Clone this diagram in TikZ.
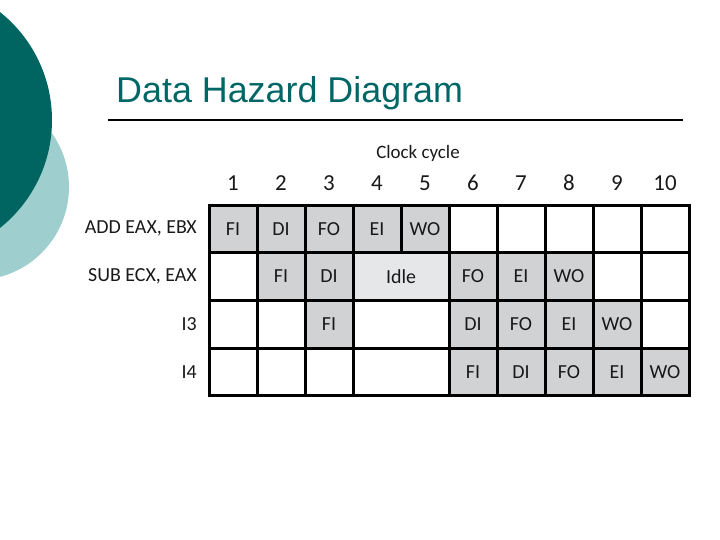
\documentclass[tikz,border=0pt]{standalone}
\usepackage{fontspec}
\newfontfamily\cellfont{Carlito}
\newfontfamily\titlefont{Liberation Sans}
\usetikzlibrary{positioning}
\definecolor{deepteal}{RGB}{0,101,96}
\definecolor{paleteal}{RGB}{158,206,206}
\definecolor{titleteal}{RGB}{0,102,102}
\definecolor{stagegray}{RGB}{209,210,212}
\definecolor{idlegray}{RGB}{230,231,232}
\tikzset{
  cell/.style={draw, line width=3bp, minimum width=48bp, minimum height=47.75bp, inner sep=0pt, font=\cellfont\fontsize{20}{22}\selectfont, text=black!90},
  busy/.style={cell, fill=stagegray},
  wait/.style={cell, fill=idlegray},
  free/.style={cell, fill=white},
  wide/.style={minimum width=96bp},
  instr/.style={anchor=east, inner sep=0pt, font=\cellfont\fontsize{20}{22}\selectfont, text=black!90},
  cyclenum/.style={font=\cellfont\fontsize{23}{26}\selectfont, text=black!90}
}
\begin{document}
\begin{tikzpicture}[x=1bp, y=-1bp]
  %%%%% FRAME %%%%%
  \useasboundingbox (0,0) rectangle (720,540);
  \clip (0,0) rectangle (720,540);

  %%%%% CORNER DISCS %%%%%
  \fill[paleteal] (-24,187) circle (93);
  \fill[deepteal] (-86,120) circle (138);

  %%%%% TITLE %%%%%
  \node[anchor=base west, inner sep=0pt, text=titleteal, font=\titlefont\fontsize{36}{40}\selectfont] (title) at (116,103) {Data Hazard Diagram};
  \draw[line width=1.3bp] (108,120) -- (683,120);

  %%%%% HEADER %%%%%
  \node[font=\cellfont\fontsize{19}{22}\selectfont, text=black!90] (clk) at (418,153) {Clock cycle};
  \foreach \c in {1,...,10}
    \node[cyclenum] (n\c) at ({185+48*\c},183) {\c};

  %%%%% ROW LABELS %%%%%
  \node[instr] (add) at (197,228) {ADD EAX, EBX};
  \node[instr] (sub) at (197,276) {SUB ECX, EAX};
  \node[instr] (ithree) at (197,324) {I3};
  \node[instr] (ifour) at (197,372) {I4};

  %%%%% ROW 1 : ADD %%%%%
  \foreach \c/\s/\t in {1/busy/FI, 2/busy/DI, 3/busy/FO, 4/busy/EI, 5/busy/WO,
                        6/free/{}, 7/free/{}, 8/free/{}, 9/free/{}, 10/free/{}}
    \node[\s] (a\c) at ({185+48*\c},228.9) {\t};

  %%%%% ROW 2 : SUB %%%%%
  \foreach \c/\s/\t in {1/free/{}, 2/busy/FI, 3/busy/DI,
                        6/busy/FO, 7/busy/EI, 8/busy/WO, 9/free/{}, 10/free/{}}
    \node[\s] (b\c) at ({185+48*\c},276.6) {\t};
  \node[wait, wide] (bidle) at (401,276.6) {Idle};

  %%%%% ROW 3 : I3 %%%%%
  \foreach \c/\s/\t in {1/free/{}, 2/free/{}, 3/busy/FI,
                        6/busy/DI, 7/busy/FO, 8/busy/EI, 9/busy/WO, 10/free/{}}
    \node[\s] (c\c) at ({185+48*\c},324.4) {\t};
  \node[free, wide] (cgap) at (401,324.4) {};

  %%%%% ROW 4 : I4 %%%%%
  \foreach \c/\s/\t in {1/free/{}, 2/free/{}, 3/free/{},
                        6/busy/FI, 7/busy/DI, 8/busy/FO, 9/busy/EI, 10/busy/WO}
    \node[\s] (d\c) at ({185+48*\c},372.1) {\t};
  \node[free, wide] (dgap) at (401,372.1) {};
\end{tikzpicture}
\end{document}
